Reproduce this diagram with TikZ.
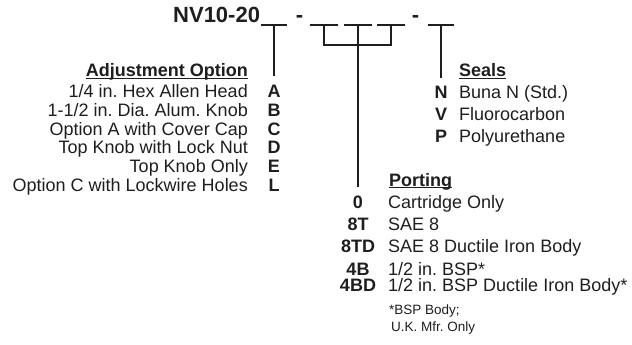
\documentclass[tikz,border=0pt]{standalone}
\usepackage{fontspec}
\setmainfont{Liberation Sans}
\definecolor{ink}{HTML}{1E1E1E}
\frenchspacing
\begin{document}
\begin{tikzpicture}[x=1pt,y=-1pt,
  txt/.style={inner sep=0pt, text=ink, font=\fontsize{18}{18}\selectfont},
  code/.style={inner sep=0pt, text=ink, font=\bfseries\fontsize{18}{18}\selectfont, anchor=base},
  head/.style={inner sep=0pt, text=ink, font=\bfseries\fontsize{18}{18}\selectfont},
  ttl/.style={inner sep=0pt, text=ink, font=\bfseries\fontsize{22}{22}\selectfont},
  note/.style={inner sep=0pt, text=ink, font=\fontsize{13.5}{13.5}\selectfont, anchor=base west},
  slot/.style={draw=ink, line width=1.3pt},
  conn/.style={draw=ink, line width=1.1pt},
  uline/.style={draw=ink, line width=1.1pt}]
\useasboundingbox (0,0) rectangle (632,345);

% title and slots
\node[ttl, anchor=base west] (nv) at (173,23) {NV10-20};
\node[ttl, anchor=base] (d1) at (299.5,23) {-};
\node[ttl, anchor=base] (d2) at (415.5,23) {-};
\coordinate (s1a) at (261,25); \coordinate (s1b) at (287,25); \coordinate (c1) at (274,25);
\coordinate (s2a) at (310,25); \coordinate (s2b) at (338,25); \coordinate (c2) at (324,25);
\coordinate (s3a) at (344,25); \coordinate (s3b) at (372,25); \coordinate (c3) at (358,25);
\coordinate (s4a) at (377,25); \coordinate (s4b) at (405,25); \coordinate (c4) at (391,25);
\coordinate (s5a) at (428,25); \coordinate (s5b) at (454,25); \coordinate (c5) at (441,25);
\draw[slot] (s1a) -- (s1b);
\draw[slot] (s2a) -- (s2b);
\draw[slot] (s3a) -- (s3b);
\draw[slot] (s4a) -- (s4b);
\draw[slot] (s5a) -- (s5b);

% connectors
\coordinate (aend) at (274,76);
\coordinate (b2) at (324,45); \coordinate (b4) at (391,45);
\coordinate (pend) at (358,187);
\coordinate (send) at (441,78);
\draw[conn] (c1) -- (aend);
\draw[conn] (c2) -- (b2) -- (b4) -- (c4);
\draw[conn] (c3) -- (pend);
\draw[conn] (c5) -- (send);

% Adjustment option
\node[head, anchor=base east] (adj) at (248,77) {Adjustment Option};
\draw[uline] ([yshift=-1.6pt]adj.base west) -- ([yshift=-1.6pt]adj.base east);
\node[txt, anchor=base east] (ta) at (248,98.0) {1/4 in. Hex Allen Head};
\node[txt, anchor=base east] (tb) at (248,116.6) {1-1/2 in. Dia. Alum. Knob};
\node[txt, anchor=base east] (tc) at (248,135.2) {Option A with Cover Cap};
\node[txt, anchor=base east] (td) at (248,153.8) {Top Knob with Lock Nut};
\node[txt, anchor=base east] (te) at (248,172.4) {Top Knob Only};
\node[txt, anchor=base east] (tl) at (248,191.0) {Option C with Lockwire Holes};
\node[code] (ka) at (274,98.0) {A};
\node[code] (kb) at (274,116.6) {B};
\node[code] (kc) at (274,135.2) {C};
\node[code] (kd) at (274,153.8) {D};
\node[code] (ke) at (274,172.4) {E};
\node[code] (kl) at (274,191.0) {L};

% Seals
\node[head, anchor=base west] (seals) at (459,77) {Seals};
\draw[uline] ([yshift=-1.6pt]seals.base west) -- ([yshift=-1.6pt]seals.base east);
\node[code] (kn) at (441,99) {N};
\node[code] (kv) at (441,120.5) {V};
\node[code] (kp) at (441,142) {P};
\node[txt, anchor=base west] (tn) at (459,99) {Buna N (Std.)};
\node[txt, anchor=base west] (tv) at (459,120.5) {Fluorocarbon};
\node[txt, anchor=base west] (tp) at (459,142) {Polyurethane};

% Porting
\node[head, anchor=base west] (port) at (389,186) {Porting};
\draw[uline] ([yshift=-1.6pt]port.base west) -- ([yshift=-1.6pt]port.base east);
\node[code] (k0) at (358,208) {0};
\node[code] (k8t) at (358,230) {8T};
\node[code] (k8td) at (358,252) {8TD};
\node[code] (k4b) at (358,275) {4B};
\node[code] (k4bd) at (358,291) {4BD};
\node[txt, anchor=base west] (t0) at (388,208) {Cartridge Only};
\node[txt, anchor=base west] (t8t) at (388,230) {SAE 8};
\node[txt, anchor=base west] (t8td) at (388,252) {SAE 8 Ductile Iron Body};
\node[txt, anchor=base west] (t4b) at (388,275) {1/2 in. BSP*};
\node[txt, anchor=base west] (t4bd) at (388,291) {1/2 in. BSP Ductile Iron Body*};
\node[note] (n1) at (389,314) {*BSP Body;};
\node[note] (n2) at (391,331) {U.K. Mfr. Only};
\end{tikzpicture}
\end{document}
